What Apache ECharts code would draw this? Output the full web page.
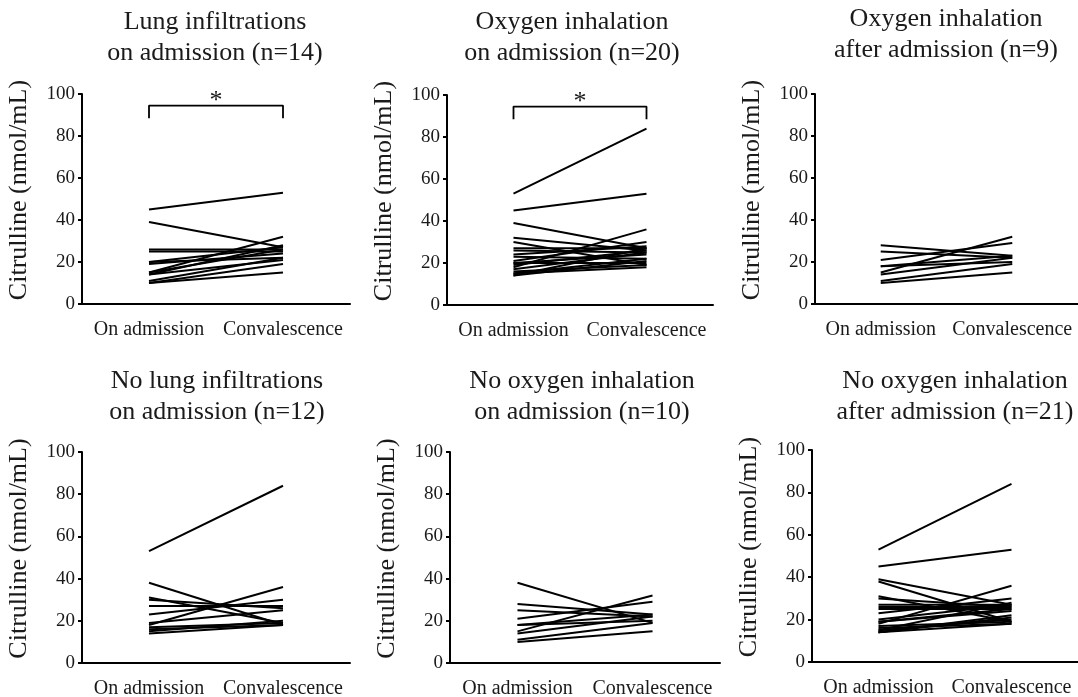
<!DOCTYPE html>
<html>
<head>
<meta charset="utf-8">
<script src="https://cdn.jsdelivr.net/npm/echarts@6/dist/echarts.min.js"></script>
<style>
html,body{margin:0;padding:0;background:#fff;}
#chart{width:1078px;height:697px;}
</style>
</head>
<body>
<div id="chart"></div>
<script>
// ---- data ----
const categories = ['On admission', 'Convalescence'];
const yMin = 0, yMax = 100, yStep = 20;
const yAxisTitle = 'Citrulline (nmol/mL)';
const titles = [
  'Lung infiltrations\non admission (n=14)',
  'Oxygen inhalation\non admission (n=20)',
  'Oxygen inhalation\nafter admission (n=9)',
  'No lung infiltrations\non admission (n=12)',
  'No oxygen inhalation\non admission (n=10)',
  'No oxygen inhalation\nafter admission (n=21)'
];
const significance = ['*', '*', '', '', '', ''];
const bracketLow = 88.5, bracketHigh = 94.5;

const lungAdm  = [45, 39, 26, 25, 20, 20, 19, 15, 14, 15, 14, 11, 10, 10];
const lungConv = [53, 27, 26, 25, 27, 22, 24, 32, 28, 26, 21, 22, 19, 15];

const oxyAdm  = [53, 45, 39, 32, 30, 27, 26, 24, 23, 21, 20, 20, 19, 18, 17, 16, 15, 15, 14, 14];
const oxyConv = [84, 53, 27, 26, 19, 27, 25, 28, 22, 30, 24, 20, 26, 36, 25, 19, 22, 18, 21, 27];

const oxyAfterAdm  = [28, 25, 21, 18, 18, 15, 14, 11, 10];
const oxyAfterConv = [23, 22, 29, 23, 20, 32, 22, 19, 15];

const noLungAdm  = [53, 38, 31, 30, 27, 23, 19, 18, 17, 16, 15, 14];
const noLungConv = [84, 18, 19, 26, 27, 30, 25, 36, 19, 18, 20, 18];

const noOxyAdm  = [38, 28, 25, 21, 18, 18, 15, 14, 11, 10];
const noOxyConv = [19, 23, 22, 29, 23, 20, 32, 22, 19, 15];

const noOxyAfterAdm  = [53, 45, 39, 38, 31, 30, 27, 26, 25, 23, 20, 19, 19, 18, 17, 16, 15, 15, 14, 14, 14];
const noOxyAfterConv = [84, 53, 27, 19, 19, 26, 27, 26, 25, 30, 27, 24, 25, 36, 19, 18, 28, 20, 21, 18, 22];

const panelData = [
  [lungAdm, lungConv],
  [oxyAdm, oxyConv],
  [oxyAfterAdm, oxyAfterConv],
  [noLungAdm, noLungConv],
  [noOxyAdm, noOxyConv],
  [noOxyAfterAdm, noOxyAfterConv]
];

// ---- layout ----
const FONT = '"Liberation Serif", "Times New Roman", serif';
const TXT = '#1a1a1a';
const grids = [
  {left: 82,  top: 94,  width: 268, height: 210},
  {left: 447, top: 95,  width: 266, height: 210},
  {left: 815, top: 94,  width: 263, height: 210},
  {left: 82,  top: 452, width: 268, height: 211},
  {left: 450, top: 452, width: 270, height: 211},
  {left: 812, top: 450, width: 266, height: 212}
];
const titlePos = [
  {x: 215, y: 7}, {x: 572, y: 7}, {x: 946, y: 4},
  {x: 217, y: 366}, {x: 582, y: 366}, {x: 955, y: 366}
];

const xAxes = [], yAxes = [], series = [];
grids.forEach((g, i) => {
  xAxes.push({
    type: 'category', gridIndex: i, data: categories, boundaryGap: true,
    axisLine: {lineStyle: {color: '#000', width: 2}},
    axisTick: {show: false},
    axisLabel: {color: TXT, fontFamily: FONT, fontSize: 20, margin: 16, interval: 0}
  });
  yAxes.push({
    type: 'value', gridIndex: i, min: yMin, max: yMax, interval: yStep,
    name: yAxisTitle, nameLocation: 'middle', nameGap: 50,
    nameTextStyle: {color: TXT, fontFamily: FONT, fontSize: 26, padding: [0, 0, 0, 18]},
    axisLine: {show: true, lineStyle: {color: '#000', width: 2}},
    axisTick: {show: true, length: 4, lineStyle: {color: '#000', width: 2}},
    splitLine: {show: false},
    axisLabel: {color: TXT, fontFamily: FONT, fontSize: 19, margin: 7}
  });
  const [adm, conv] = panelData[i];
  adm.forEach((v, k) => {
    series.push({
      type: 'line', xAxisIndex: i, yAxisIndex: i,
      data: [[categories[0], v], [categories[1], conv[k]]],
      symbol: 'none', silent: true, animation: false,
      lineStyle: {color: '#000', width: 2}
    });
  });
  if (significance[i]) {
    series.push({
      type: 'line', xAxisIndex: i, yAxisIndex: i,
      data: [[categories[0], bracketLow], [categories[0], bracketHigh],
             [categories[1], bracketHigh], [categories[1], bracketLow]],
      symbol: 'none', silent: true, animation: false,
      lineStyle: {color: '#000', width: 1.8}
    });
  }
});

const chart = echarts.init(document.getElementById('chart'), null, {renderer: 'canvas'});
chart.setOption({
  backgroundColor: '#fff',
  animation: false,
  grid: grids.map(g => Object.assign({containLabel: false, outerBoundsMode: 'none'}, g)),
  xAxis: xAxes,
  yAxis: yAxes,
  series: series
});

// titles and significance stars
const graphics = titles.map((t, i) => ({
  type: 'text', x: titlePos[i].x, y: titlePos[i].y,
  style: {text: t, fill: TXT, font: '26px ' + FONT, textAlign: 'center', textVerticalAlign: 'top', lineHeight: 31}
}));
significance.forEach((s, i) => {
  if (!s) return;
  const p0 = chart.convertToPixel({gridIndex: i}, [categories[0], bracketHigh]);
  const p1 = chart.convertToPixel({gridIndex: i}, [categories[1], bracketHigh]);
  graphics.push({
    type: 'text', x: (p0[0] + p1[0]) / 2, y: p0[1] + 9,
    style: {text: s, fill: TXT, font: '26px ' + FONT, textAlign: 'center', textVerticalAlign: 'bottom'}
  });
});
chart.setOption({graphic: graphics});
</script>
</body>
</html>
